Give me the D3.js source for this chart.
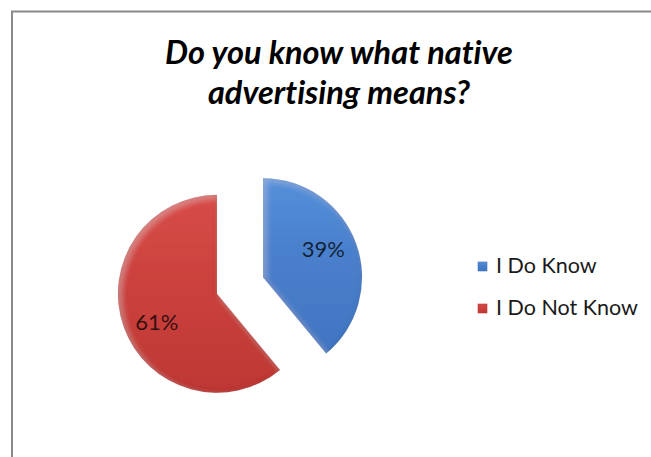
<!DOCTYPE html>
<html>
<head>
<meta charset="utf-8">
<script src="https://cdn.jsdelivr.net/npm/d3@7"></script>
<style>
  html, body { margin: 0; padding: 0; background: #fff; }
  svg { display: block; }
  text { font-variant-ligatures: none; }
</style>
</head>
<body>
<svg id="chart" width="651" height="457"></svg>
<script>
// Survey answers and their shares (percent)
const categories = ["I Do Know", "I Do Not Know"];
const shares = [39, 61];
const titleLines = ["Do you know what native", "advertising means?"];

// Fill palette per answer: light, mid, dark
const palettes = [
  ["#5590d9", "#4a80cc", "#4175c1"],
  ["#d74c48", "#cc423e", "#bd3834"]
];

const width = 651, height = 457;
const svg = d3.select("#chart");
const defs = svg.append("defs");

// Chart frame
svg.append("rect")
  .attr("x", 12).attr("y", 11.5)
  .attr("width", 700).attr("height", 500)
  .attr("fill", "#fff")
  .attr("stroke", "#8a8a8a")
  .attr("stroke-width", 2);

// Title
const title = svg.append("text")
  .attr("text-anchor", "middle")
  .attr("font-family", "Lato, 'Open Sans', sans-serif")
  .attr("font-weight", "bold")
  .attr("font-style", "italic")
  .attr("font-size", 32.5)
  .attr("fill", "#000");
title.selectAll("tspan").data(titleLines).join("tspan")
  .attr("x", 339)
  .attr("y", (d, i) => 64 + i * 40)
  .text(d => d);

// Gradients and bevel filter for the slices
palettes.forEach((p, i) => {
  const g = defs.append("linearGradient")
    .attr("id", "grad" + i)
    .attr("x1", 0).attr("y1", 0).attr("x2", 0).attr("y2", 1);
  g.append("stop").attr("offset", "0%").attr("stop-color", p[0]);
  g.append("stop").attr("offset", "40%").attr("stop-color", p[1]);
  g.append("stop").attr("offset", "100%").attr("stop-color", p[2]);
});

const bevel = defs.append("filter").attr("id", "bevel")
  .attr("x", "-10%").attr("y", "-10%").attr("width", "120%").attr("height", "120%");
// dark inner rim
bevel.append("feGaussianBlur").attr("in", "SourceAlpha").attr("stdDeviation", 2).attr("result", "blur");
bevel.append("feComposite").attr("in", "SourceAlpha").attr("in2", "blur").attr("operator", "out").attr("result", "rim");
bevel.append("feFlood").attr("flood-color", "#000").attr("flood-opacity", 0.3).attr("result", "dark");
bevel.append("feComposite").attr("in", "dark").attr("in2", "rim").attr("operator", "in").attr("result", "rimDark");
// light band just inside the top-left of the rim
bevel.append("feGaussianBlur").attr("in", "SourceAlpha").attr("stdDeviation", 3).attr("result", "blur2");
bevel.append("feOffset").attr("in", "blur2").attr("dx", 3).attr("dy", 3).attr("result", "offBlur");
bevel.append("feComposite").attr("in", "SourceAlpha").attr("in2", "offBlur").attr("operator", "out").attr("result", "hiMask");
bevel.append("feFlood").attr("flood-color", "#fff").attr("flood-opacity", 0.22).attr("result", "light");
bevel.append("feComposite").attr("in", "light").attr("in2", "hiMask").attr("operator", "in").attr("result", "rimLight");
const merge = bevel.append("feMerge");
merge.append("feMergeNode").attr("in", "SourceGraphic");
merge.append("feMergeNode").attr("in", "rimLight");
merge.append("feMergeNode").attr("in", "rimDark");

// Pie layout (clockwise from 12 o'clock, no sorting)
const pie = d3.pie().sort(null).value(d => d.value);
const arcs = pie(categories.map((c, i) => ({ name: c, value: shares[i], idx: i })));

const cx = 240, cy = 285.5, radius = 99, explode = 24.5;
const arc = d3.arc().innerRadius(0).outerRadius(radius);
const labelR = radius * 0.67;
const labelTurn = -5 * Math.PI / 180; // labels sit slightly counter-clockwise of the bisector

const pieG = svg.append("g").attr("transform", `translate(${cx},${cy})`);

const slices = pieG.selectAll("g.slice").data(arcs).join("g")
  .attr("class", "slice")
  .attr("transform", d => {
    const mid = (d.startAngle + d.endAngle) / 2;
    return `translate(${Math.sin(mid) * explode},${-Math.cos(mid) * explode})`;
  });

slices.append("path")
  .attr("d", arc)
  .attr("fill", d => `url(#grad${d.data.idx})`)
  .attr("filter", "url(#bevel)");

slices.append("text")
  .attr("transform", d => {
    const a = (d.startAngle + d.endAngle) / 2 + labelTurn;
    return `translate(${Math.sin(a) * labelR},${-Math.cos(a) * labelR})`;
  })
  .attr("text-anchor", "middle")
  .attr("dy", "0.36em")
  .attr("font-family", "Lato, 'Open Sans', sans-serif")
  .attr("font-size", 22)
  .attr("fill", "#000")
  .attr("fill-opacity", 0.75)
  .text(d => d.data.value + "%");

// Legend
const legend = svg.append("g").attr("transform", "translate(478,262)");
const items = legend.selectAll("g").data(categories).join("g")
  .attr("transform", (d, i) => `translate(0,${i * 42})`);
items.append("rect")
  .attr("width", 9).attr("height", 9)
  .attr("fill", (d, i) => `url(#grad${i})`)
  .attr("stroke", (d, i) => palettes[i][2])
  .attr("stroke-width", 0.6);
items.append("text")
  .attr("x", 18).attr("y", 11)
  .attr("font-family", "Lato, 'Open Sans', sans-serif")
  .attr("font-size", 21.5)
  .attr("fill", "#1a1a1a")
  .text(d => d);
</script>
</body>
</html>
